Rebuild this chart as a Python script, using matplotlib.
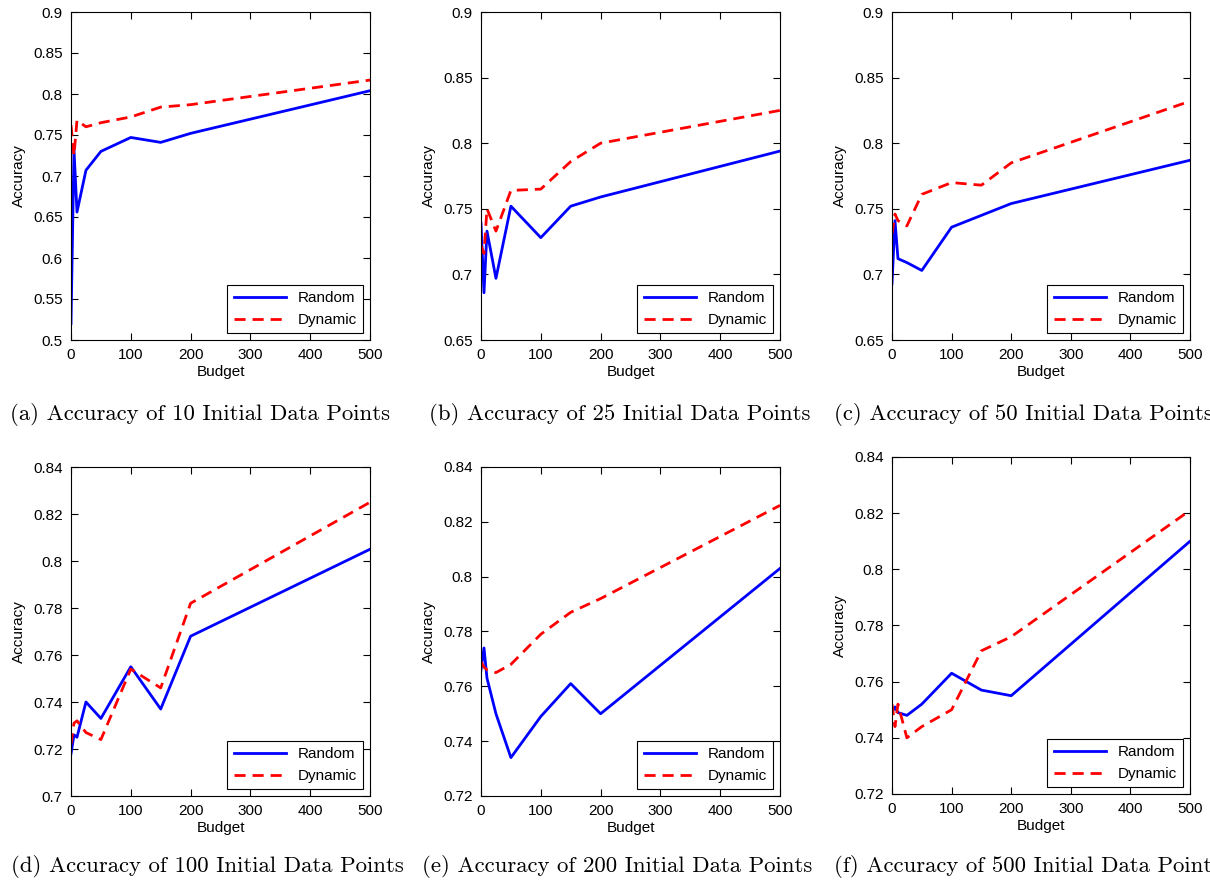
import matplotlib.pyplot as plt
import numpy as np

budget = [0, 5, 10, 25, 50, 100, 150, 200, 500]

# accuracy per panel: (random, dynamic)
rand_10 = [0.520, 0.732, 0.656, 0.707, 0.730, 0.747, 0.741, 0.752, 0.804]
dyn_10 = [0.762, 0.725, 0.768, 0.760, 0.765, 0.772, 0.784, 0.787, 0.817]

rand_25 = [0.739, 0.686, 0.733, 0.697, 0.752, 0.728, 0.752, 0.759, 0.794]
dyn_25 = [0.722, 0.716, 0.750, 0.733, 0.764, 0.765, 0.786, 0.800, 0.825]

rand_50 = [0.693, 0.741, 0.712, 0.709, 0.703, 0.736, 0.745, 0.754, 0.787]
dyn_50 = [0.731, 0.746, 0.741, 0.737, 0.761, 0.770, 0.768, 0.785, 0.832]

rand_100 = [0.718, 0.726, 0.725, 0.740, 0.733, 0.755, 0.737, 0.768, 0.805]
dyn_100 = [0.722, 0.731, 0.732, 0.727, 0.724, 0.754, 0.746, 0.782, 0.825]

rand_200 = [0.766, 0.774, 0.763, 0.750, 0.734, 0.749, 0.761, 0.750, 0.803]
dyn_200 = [0.769, 0.767, 0.766, 0.765, 0.768, 0.779, 0.787, 0.792, 0.826]

rand_500 = [0.749, 0.751, 0.749, 0.748, 0.752, 0.763, 0.757, 0.755, 0.810]
dyn_500 = [0.752, 0.744, 0.752, 0.740, 0.744, 0.750, 0.771, 0.776, 0.821]

randoms = [rand_10, rand_25, rand_50, rand_100, rand_200, rand_500]
dynamics = [dyn_10, dyn_25, dyn_50, dyn_100, dyn_200, dyn_500]
captions = ['(a) Accuracy of 10 Initial Data Points',
            '(b) Accuracy of 25 Initial Data Points',
            '(c) Accuracy of 50 Initial Data Points',
            '(d) Accuracy of 100 Initial Data Points',
            '(e) Accuracy of 200 Initial Data Points',
            '(f) Accuracy of 500 Initial Data Points']
ylims = [(0.5, 0.9), (0.65, 0.9), (0.65, 0.9), (0.7, 0.84), (0.72, 0.84), (0.72, 0.84)]
yticks = [np.arange(0.5, 0.91, 0.05), np.arange(0.65, 0.91, 0.05), np.arange(0.65, 0.91, 0.05),
          np.arange(0.70, 0.841, 0.02), np.arange(0.72, 0.841, 0.02), np.arange(0.72, 0.841, 0.02)]

plt.rcParams['font.family'] = ['Liberation Sans', 'DejaVu Sans']

W, H = 1210, 880
fig = plt.figure(figsize=(W / 100, H / 100), dpi=100)

# axes boxes in pixels: left, top, right, bottom
boxes = [(71, 12, 370, 340), (481, 12, 780, 340), (892, 12, 1190, 340),
         (71, 467, 370, 796), (481, 467, 780, 796), (892, 457, 1190, 794)]
cap_x = [10, 429, 834, 11, 422, 834]
cap_y = [420, 420, 420, 872, 872, 872]

for i in range(6):
    l, t, r, b = boxes[i]
    ax = fig.add_axes([l / W, 1 - b / H, (r - l) / W, (b - t) / H])
    ax.plot(budget, randoms[i], color='#0000ff', lw=2, label='Random')
    ax.plot(budget, dynamics[i], color='#ff0000', lw=2, ls=(0, (4, 2.5)), label='Dynamic')
    ax.set_xlim(0, 500)
    ax.set_ylim(*ylims[i])
    ax.set_xticks(range(0, 501, 100))
    ax.set_yticks(yticks[i])
    ax.set_yticklabels(['%g' % round(v, 2) for v in yticks[i]])
    ax.tick_params(direction='in', top=True, right=True, labelsize=11, length=5, pad=6)
    ax.set_xlabel('Budget', fontsize=11, labelpad=2)
    ax.set_ylabel('Accuracy', fontsize=11, labelpad=5)
    leg = ax.legend(loc='lower right', fontsize=11, fancybox=False, edgecolor='k',
                    handlelength=3.4, borderaxespad=0.45, framealpha=1)
    leg.get_frame().set_linewidth(0.8)
    fig.text(cap_x[i] / W, 1 - cap_y[i] / H, captions[i], ha='left', va='baseline',
             fontsize=16.4, family='cmr10')

fig.savefig('out.png', dpi=100)
